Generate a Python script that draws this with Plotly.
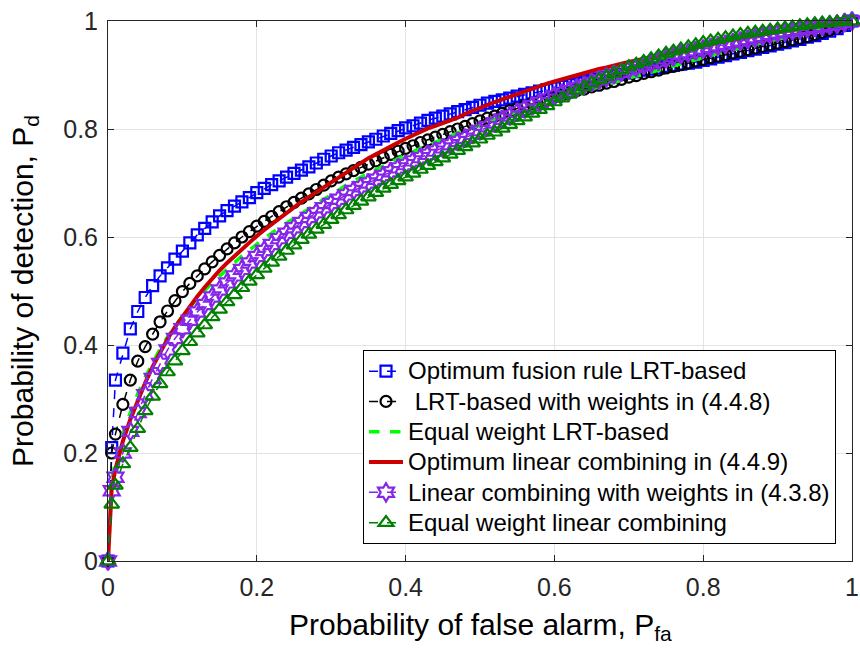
import plotly.graph_objects as go

# Probability of false alarm (shared grid for all curves)
pfa = [0, 0.005,
       0.01, 0.02, 0.03, 0.04, 0.05, 0.06, 0.07, 0.08, 0.09, 0.10,
       0.11, 0.12, 0.13, 0.14, 0.15, 0.16, 0.17, 0.18, 0.19, 0.20,
       0.21, 0.22, 0.23, 0.24, 0.25, 0.26, 0.27, 0.28, 0.29, 0.30,
       0.31, 0.32, 0.33, 0.34, 0.35, 0.36, 0.37, 0.38, 0.39, 0.40,
       0.41, 0.42, 0.43, 0.44, 0.45, 0.46, 0.47, 0.48, 0.49, 0.50,
       0.51, 0.52, 0.53, 0.54, 0.55, 0.56, 0.57, 0.58, 0.59, 0.60,
       0.61, 0.62, 0.63, 0.64, 0.65, 0.66, 0.67, 0.68, 0.69, 0.70,
       0.71, 0.72, 0.73, 0.74, 0.75, 0.76, 0.77, 0.78, 0.79, 0.80,
       0.81, 0.82, 0.83, 0.84, 0.85, 0.86, 0.87, 0.88, 0.89, 0.90,
       0.91, 0.92, 0.93, 0.94, 0.95, 0.96, 0.97, 0.98, 0.99, 1.00]

# Optimum fusion rule LRT-based
pd_opt_lrt = [0, 0.21,
              0.335, 0.385, 0.43, 0.462, 0.488, 0.51, 0.528, 0.543, 0.559, 0.574,
              0.589, 0.604, 0.616, 0.628, 0.639, 0.649, 0.657, 0.665, 0.673, 0.682,
              0.69, 0.697, 0.704, 0.711, 0.718, 0.724, 0.73, 0.737, 0.744, 0.75,
              0.756, 0.761, 0.766, 0.771, 0.776, 0.781, 0.787, 0.792, 0.797, 0.802,
              0.806, 0.811, 0.816, 0.82, 0.824, 0.828, 0.832, 0.836, 0.84, 0.844,
              0.848, 0.851, 0.854, 0.857, 0.861, 0.864, 0.867, 0.87, 0.873, 0.876,
              0.879, 0.882, 0.885, 0.888, 0.891, 0.893, 0.896, 0.899, 0.901, 0.904,
              0.906, 0.909, 0.911, 0.913, 0.916, 0.918, 0.92, 0.922, 0.924, 0.927,
              0.930, 0.933, 0.936, 0.939, 0.942, 0.945, 0.948, 0.951, 0.954, 0.957,
              0.960, 0.963, 0.966, 0.970, 0.973, 0.977, 0.981, 0.986, 0.992, 1.0]

# LRT-based with weights in (4.4.8)
pd_lrt_w = [0, 0.2,
            0.235, 0.29, 0.335, 0.37, 0.397, 0.42, 0.443, 0.463, 0.482, 0.499,
            0.514, 0.528, 0.541, 0.554, 0.566, 0.578, 0.589, 0.6, 0.61, 0.62,
            0.629, 0.638, 0.647, 0.656, 0.664, 0.672, 0.68, 0.688, 0.696, 0.704,
            0.711, 0.717, 0.723, 0.729, 0.735, 0.741, 0.747, 0.753, 0.759, 0.764,
            0.769, 0.775, 0.78, 0.785, 0.79, 0.795, 0.8, 0.805, 0.81, 0.815,
            0.82, 0.824, 0.829, 0.834, 0.838, 0.843, 0.847, 0.851, 0.855, 0.859,
            0.863, 0.867, 0.871, 0.874, 0.878, 0.881, 0.885, 0.888, 0.892, 0.896,
            0.899, 0.903, 0.906, 0.909, 0.913, 0.916, 0.919, 0.922, 0.926, 0.929,
            0.932, 0.935, 0.938, 0.941, 0.944, 0.947, 0.95, 0.953, 0.956, 0.959,
            0.962, 0.965, 0.968, 0.971, 0.975, 0.979, 0.983, 0.988, 0.994, 1.0]

# Equal weight LRT-based
pd_lrt_eq = [0, 0.15,
             0.185, 0.235, 0.275, 0.31, 0.34, 0.368, 0.393, 0.415, 0.435, 0.453,
             0.47, 0.486, 0.501, 0.515, 0.528, 0.541, 0.553, 0.565, 0.576, 0.587,
             0.597, 0.607, 0.617, 0.626, 0.635, 0.644, 0.653, 0.662, 0.67, 0.678,
             0.688, 0.696, 0.704, 0.711, 0.718, 0.725, 0.732, 0.739, 0.745, 0.752,
             0.758, 0.764, 0.77, 0.776, 0.782, 0.787, 0.793, 0.798, 0.803, 0.808,
             0.813, 0.818, 0.823, 0.828, 0.833, 0.837, 0.842, 0.846, 0.85, 0.855,
             0.859, 0.863, 0.867, 0.871, 0.875, 0.879, 0.883, 0.887, 0.89, 0.894,
             0.898, 0.901, 0.905, 0.908, 0.912, 0.916, 0.92, 0.925, 0.929, 0.933,
             0.936, 0.94, 0.943, 0.947, 0.95, 0.953, 0.957, 0.96, 0.963, 0.966,
             0.969, 0.972, 0.975, 0.978, 0.981, 0.984, 0.987, 0.991, 0.995, 1.0]

# Optimum linear combining in (4.4.9)
pd_lin_opt = [0, 0.135,
              0.17, 0.222, 0.262, 0.298, 0.33, 0.36, 0.387, 0.411, 0.433, 0.453,
              0.472, 0.49, 0.507, 0.523, 0.538, 0.552, 0.565, 0.578, 0.59, 0.602,
              0.613, 0.624, 0.635, 0.645, 0.655, 0.665, 0.674, 0.683, 0.692, 0.701,
              0.71, 0.72, 0.729, 0.738, 0.746, 0.753, 0.761, 0.768, 0.775, 0.782,
              0.789, 0.795, 0.801, 0.806, 0.811, 0.816, 0.821, 0.828, 0.834, 0.839,
              0.844, 0.85, 0.855, 0.86, 0.865, 0.87, 0.875, 0.88, 0.884, 0.888,
              0.892, 0.896, 0.9, 0.904, 0.907, 0.911, 0.914, 0.918, 0.921, 0.924,
              0.927, 0.93, 0.933, 0.936, 0.939, 0.942, 0.945, 0.948, 0.951, 0.954,
              0.957, 0.96, 0.962, 0.965, 0.967, 0.97, 0.972, 0.975, 0.977, 0.979,
              0.982, 0.984, 0.986, 0.988, 0.99, 0.992, 0.994, 0.996, 0.998, 1.0]

# Linear combining with weights in (4.3.8)
pd_lin_w = [0, 0.13,
            0.155, 0.2, 0.24, 0.275, 0.308, 0.338, 0.366, 0.391, 0.412, 0.43,
            0.446, 0.461, 0.475, 0.489, 0.502, 0.515, 0.528, 0.54, 0.552, 0.564,
            0.575, 0.586, 0.597, 0.607, 0.617, 0.627, 0.636, 0.645, 0.654, 0.662,
            0.67, 0.678, 0.686, 0.693, 0.7, 0.707, 0.714, 0.721, 0.728, 0.734,
            0.741, 0.747, 0.753, 0.759, 0.765, 0.771, 0.777, 0.783, 0.79, 0.797,
            0.804, 0.811, 0.818, 0.824, 0.831, 0.837, 0.843, 0.849, 0.855, 0.861,
            0.866, 0.871, 0.876, 0.881, 0.886, 0.891, 0.896, 0.901, 0.905, 0.91,
            0.914, 0.918, 0.922, 0.926, 0.93, 0.934, 0.938, 0.941, 0.945, 0.948,
            0.951, 0.954, 0.957, 0.96, 0.963, 0.966, 0.969, 0.972, 0.975, 0.978,
            0.98, 0.982, 0.984, 0.986, 0.988, 0.99, 0.992, 0.994, 0.997, 1.0]

# Equal weight linear combining
pd_lin_eq = [0, 0.105,
             0.14, 0.18, 0.21, 0.245, 0.278, 0.305, 0.328, 0.35, 0.37, 0.389,
             0.406, 0.422, 0.437, 0.452, 0.466, 0.48, 0.493, 0.506, 0.518, 0.53,
             0.542, 0.553, 0.564, 0.575, 0.585, 0.595, 0.605, 0.614, 0.623, 0.632,
             0.641, 0.65, 0.658, 0.666, 0.674, 0.682, 0.69, 0.697, 0.704, 0.711,
             0.718, 0.725, 0.732, 0.739, 0.746, 0.753, 0.76, 0.767, 0.774, 0.781,
             0.788, 0.794, 0.801, 0.808, 0.815, 0.822, 0.829, 0.836, 0.843, 0.85,
             0.857, 0.864, 0.871, 0.878, 0.885, 0.891, 0.897, 0.903, 0.909, 0.915,
             0.92, 0.925, 0.93, 0.935, 0.94, 0.944, 0.948, 0.952, 0.956, 0.96,
             0.963, 0.966, 0.969, 0.972, 0.975, 0.977, 0.979, 0.981, 0.983, 0.985,
             0.987, 0.989, 0.991, 0.993, 0.995, 0.996, 0.997, 0.998, 0.999, 1.0]

labels = ["Optimum fusion rule LRT-based",
          "\u00a0LRT-based with weights in (4.4.8)",
          "Equal weight LRT-based",
          "Optimum linear combining in (4.4.9)",
          "Linear combining with weights in (4.3.8)",
          "Equal weight linear combining"]

tick_vals = [0, 0.2, 0.4, 0.6, 0.8, 1]
tick_text = ["0", "0.2", "0.4", "0.6", "0.8", "1"]

x_title = "Probability of false alarm, P<sub>fa</sub>"
y_title = "Probability of detection, P<sub>d</sub>"


def leg(name):
    return '<span style="font-size:24px">' + name + '</span>'


fig = go.Figure()

fig.add_trace(go.Scatter(
    x=pfa, y=pd_opt_lrt, name=leg(labels[0]), mode="lines+markers", cliponaxis=False,
    line=dict(color="#0000FF", width=1.5, dash="dash"),
    marker=dict(symbol="square-open", size=11, color="#0000FF", line=dict(width=2.2, color="#0000FF"))))
fig.add_trace(go.Scatter(
    x=pfa, y=pd_lrt_w, name=leg(labels[1]), mode="lines+markers", cliponaxis=False,
    line=dict(color="#000000", width=1.5, dash="dash"),
    marker=dict(symbol="circle-open", size=11, color="#000000", line=dict(width=2.2, color="#000000"))))
fig.add_trace(go.Scatter(
    x=pfa, y=pd_lrt_eq, name=leg(labels[2]), mode="lines", cliponaxis=False,
    line=dict(color="#00FF00", width=3.5, dash="dash")))
fig.add_trace(go.Scatter(
    x=pfa, y=pd_lin_opt, name=leg(labels[3]), mode="lines", cliponaxis=False,
    line=dict(color="#CC0000", width=4)))
fig.add_trace(go.Scatter(
    x=pfa, y=pd_lin_w, name=leg(labels[4]), mode="lines+markers", cliponaxis=False,
    line=dict(color="#8526E8", width=1.5, dash="dash"),
    marker=dict(symbol="hexagram-open", size=14, color="#8526E8", line=dict(width=2.2, color="#8526E8"))))
fig.add_trace(go.Scatter(
    x=pfa, y=pd_lin_eq, name=leg(labels[5]), mode="lines+markers", cliponaxis=False,
    line=dict(color="#008000", width=1.5, dash="dash"),
    marker=dict(symbol="triangle-up-open", size=13, color="#008000", line=dict(width=2.2, color="#008000"))))

axis_common = dict(
    range=[0, 1], tickvals=tick_vals, ticktext=tick_text, automargin=False,
    showgrid=True, gridcolor="#E3E3E3", gridwidth=1,
    showline=True, linecolor="#262626", linewidth=1, mirror="ticks",
    ticks="inside", ticklen=6, tickcolor="#262626", zeroline=False,
    tickfont=dict(family="Liberation Sans, Arial, sans-serif", size=25, color="#262626"),
)

fig.update_layout(
    width=860, height=648,
    margin=dict(l=108, r=8, t=21, b=87),
    plot_bgcolor="white", paper_bgcolor="white",
    font=dict(family="Liberation Sans, Arial, sans-serif", color="#000000"),
    xaxis=dict(**axis_common, ticklabelstandoff=4),
    yaxis=dict(**axis_common, ticklabelstandoff=4),
    legend=dict(x=0.9785, y=0.0315, xanchor="right", yanchor="bottom",
                bgcolor="white", bordercolor="#000000", borderwidth=1,
                font=dict(size=21, color="#000000"), itemwidth=34,
                tracegroupgap=0),
    showlegend=True,
    annotations=[
        dict(text=x_title, xref="paper", yref="paper", x=0.5, y=-0.083,
             xanchor="center", yanchor="top", showarrow=False,
             font=dict(size=30, color="#000000")),
        dict(text=y_title, xref="paper", yref="paper", x=-0.113,
             y=0.50, xanchor="center", yanchor="middle", showarrow=False,
             textangle=-90, font=dict(size=30, color="#000000")),
    ],
)

fig.write_html("out.html")
